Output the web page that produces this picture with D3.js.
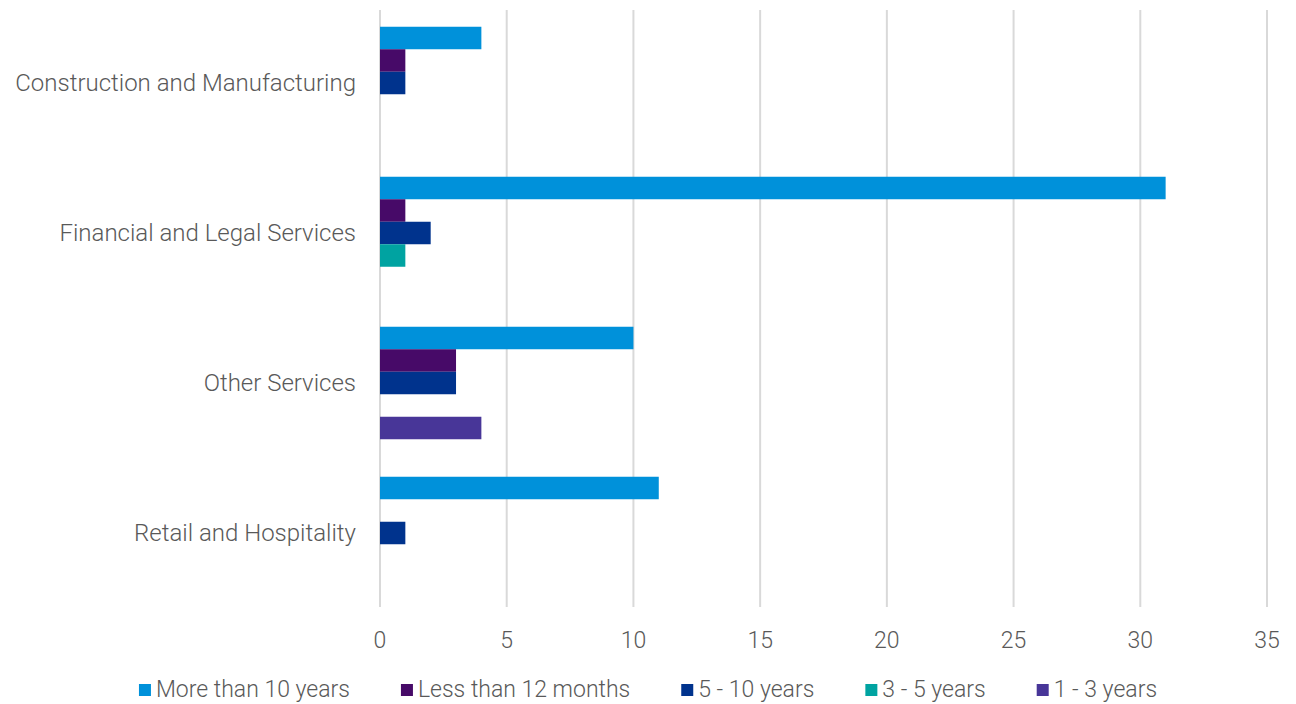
<!DOCTYPE html>
<html>
<head>
<meta charset="utf-8">
<script src="https://cdn.jsdelivr.net/npm/d3@7"></script>
<style>
  html, body { margin: 0; padding: 0; background: #fff; }
  svg text { font-family: Roboto, "Liberation Sans", sans-serif; font-weight: 300; fill: #595959; }
</style>
</head>
<body>
<svg id="chart" width="1296" height="704"></svg>
<script>
// Industries (top to bottom)
const categories = [
  "Construction and Manufacturing",
  "Financial and Legal Services",
  "Other Services",
  "Retail and Hospitality"
];

// Tenure series, in the order they stack within each industry group
const seriesNames = [
  "More than 10 years",
  "Less than 12 months",
  "5 - 10 years",
  "3 - 5 years",
  "1 - 3 years"
];

// Counts per industry for each series
const moreThan10 = [4, 31, 10, 11];
const lessThan12m = [1, 1, 3, 0];
const fiveTo10 = [1, 2, 3, 1];
const threeTo5 = [0, 1, 0, 0];
const oneTo3 = [0, 0, 4, 0];

const seriesValues = [moreThan10, lessThan12m, fiveTo10, threeTo5, oneTo3];
const seriesColors = ["#0091da", "#470a68", "#00338d", "#00a3a1", "#483698"];

const xTicks = [0, 5, 10, 15, 20, 25, 30, 35];

const svg = d3.select("#chart");
const W = 1296;
const plot = { left: 380, right: 1267, top: 8, bottom: 608, gridTop: 10, gridBottom: 607 };

const x = d3.scaleLinear().domain([0, 35]).range([plot.left, plot.right]);
const y0 = d3.scaleBand().domain(categories).range([plot.top, plot.bottom]).paddingInner(0.25).paddingOuter(0.125);
const y1 = d3.scaleBand().domain(seriesNames).range([0, y0.bandwidth()]);

// vertical gridlines
svg.append("g")
  .selectAll("line")
  .data(xTicks)
  .join("line")
  .attr("x1", d => x(d)).attr("x2", d => x(d))
  .attr("y1", plot.gridTop).attr("y2", plot.gridBottom)
  .attr("stroke", "#d9d9d9")
  .attr("stroke-width", 2);

// x tick labels
svg.append("g")
  .selectAll("text")
  .data(xTicks)
  .join("text")
  .attr("x", d => x(d))
  .attr("y", 640)
  .attr("dy", "0.35em")
  .attr("text-anchor", "middle")
  .attr("font-size", 23)
  .text(d => d);

// bars
const rows = [];
categories.forEach((c, i) => {
  seriesNames.forEach((s, j) => {
    rows.push({ cat: c, series: s, value: seriesValues[j][i], color: seriesColors[j] });
  });
});

svg.append("g")
  .selectAll("rect")
  .data(rows.filter(d => d.value > 0))
  .join("rect")
  .attr("x", x(0))
  .attr("y", d => y0(d.cat) + y1(d.series))
  .attr("width", d => x(d.value) - x(0))
  .attr("height", y1.bandwidth())
  .attr("fill", d => d.color);

// category labels
svg.append("g")
  .selectAll("text")
  .data(categories)
  .join("text")
  .attr("x", 356)
  .attr("y", d => y0(d) + y0.bandwidth() / 2)
  .attr("dy", "0.35em")
  .attr("text-anchor", "end")
  .attr("font-size", 24)
  .text(d => d);

// legend
const legend = svg.append("g");
const items = legend.selectAll("g")
  .data(seriesNames.map((s, i) => ({ name: s, color: seriesColors[i] })))
  .join("g");
items.append("rect")
  .attr("width", 12).attr("height", 12)
  .attr("y", 684)
  .attr("fill", d => d.color);
items.append("text")
  .attr("x", 17)
  .attr("y", 689)
  .attr("dy", "0.35em")
  .attr("font-size", 23)
  .text(d => d.name);

const widths = [];
items.each(function () {
  widths.push(17 + d3.select(this).select("text").node().getComputedTextLength());
});
const gap = 51;
const total = d3.sum(widths) + gap * (widths.length - 1);
let cx = (W - total) / 2;
items.each(function (d, i) {
  d3.select(this).attr("transform", `translate(${cx},0)`);
  cx += widths[i] + gap;
});
</script>
</body>
</html>
